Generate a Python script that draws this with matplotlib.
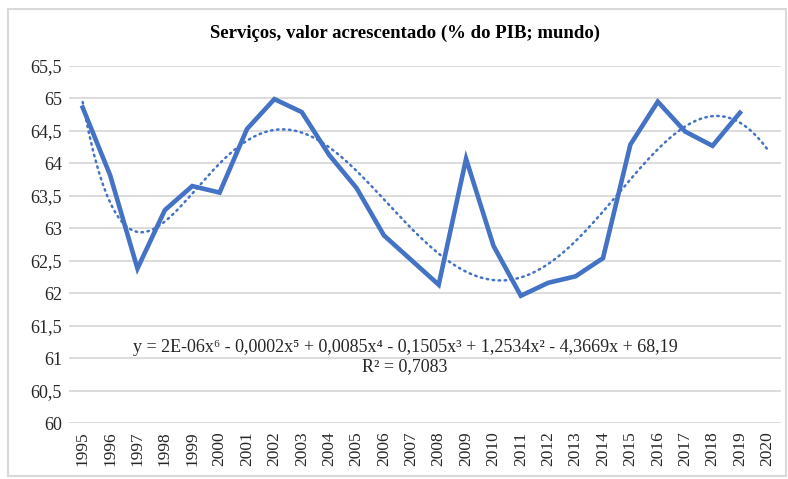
"""
Serviços, valor acrescentado (% do PIB; mundo) - line chart with 6th degree polynomial trend.
"""
import matplotlib
matplotlib.use('Agg')
import matplotlib.pyplot as plt
from matplotlib.patches import Rectangle
import numpy as np

years = [str(y) for y in range(1995, 2021)]
services = [64.86, 63.82, 62.38, 63.28, 63.65, 63.55, 64.53, 64.99, 64.79, 64.13,
            63.62, 62.89, 62.51, 62.13, 64.07, 62.73, 61.96, 62.16, 62.26, 62.54,
            64.29, 64.95, 64.49, 64.27, 64.78]
y_ticks = [60, 60.5, 61, 61.5, 62, 62.5, 63, 63.5, 64, 64.5, 65, 65.5]
title = 'Serviços, valor acrescentado (% do PIB; mundo)'
equation = 'y = 2E-06x⁶ - 0,0002x⁵ + 0,0085x⁴ - 0,1505x³ + 1,2534x² - 4,3669x + 68,19'
r_squared = 'R² = 0,7083'

blue = '#4472C4'
grid = '#D9D9D9'
serif = ['Liberation Serif', 'DejaVu Serif']

W, H = 788, 479
fig = plt.figure(figsize=(W / 100, H / 100), dpi=100)
ax = fig.add_axes([69 / W, 1 - 423 / H, (781 - 69) / W, (423 - 66) / H])

# chart frame
fig.patches.append(Rectangle((8 / W, 3 / H), (786 - 8) / W, (470 - 3) / H, transform=fig.transFigure,
                             fill=False, edgecolor='#D9D9D9', linewidth=1.5))

x = np.arange(len(services))
ax.plot(x, services, color=blue, linewidth=3.3, solid_joinstyle='miter', zorder=3)

# excel-style polynomial trendline (order 6), x = 1..n
coef = np.polyfit(x + 1, services, 6)
xs = np.linspace(0, len(years) - 1, 400)
ax.plot(xs, np.polyval(coef, xs + 1), color=blue, linewidth=1.8, linestyle=(0, (0.6, 1.8)),
        dash_capstyle='round', zorder=2)

ax.set_xlim(-0.5, len(years) - 0.5)
ax.set_ylim(60, 65.5)
ax.set_yticks(y_ticks)
ax.set_yticklabels([f'{v:g}'.replace('.', ',') for v in y_ticks], fontsize=13, family=serif, color='#262626')
ax.set_xticks(range(len(years)))
ax.set_xticklabels(years, rotation=90, fontsize=12.5, family=serif, color='#262626')
ax.tick_params(length=0, pad=6)
ax.tick_params(axis='y', pad=5)
ax.yaxis.grid(True, color=grid, linewidth=1.3)
ax.set_axisbelow(True)
for s in ax.spines.values():
    s.set_visible(False)

fig.text(405 / W, 1 - 33 / H, title, ha='center', va='center', fontsize=13.5, fontweight='bold', family=serif)
fig.text(405 / W, 1 - 348 / H, equation, ha='center', va='center', fontsize=13, family=serif, color='#262626')
fig.text(405 / W, 1 - 367 / H, r_squared, ha='center', va='center', fontsize=13, family=serif, color='#262626')

fig.savefig('out.png', dpi=100)
